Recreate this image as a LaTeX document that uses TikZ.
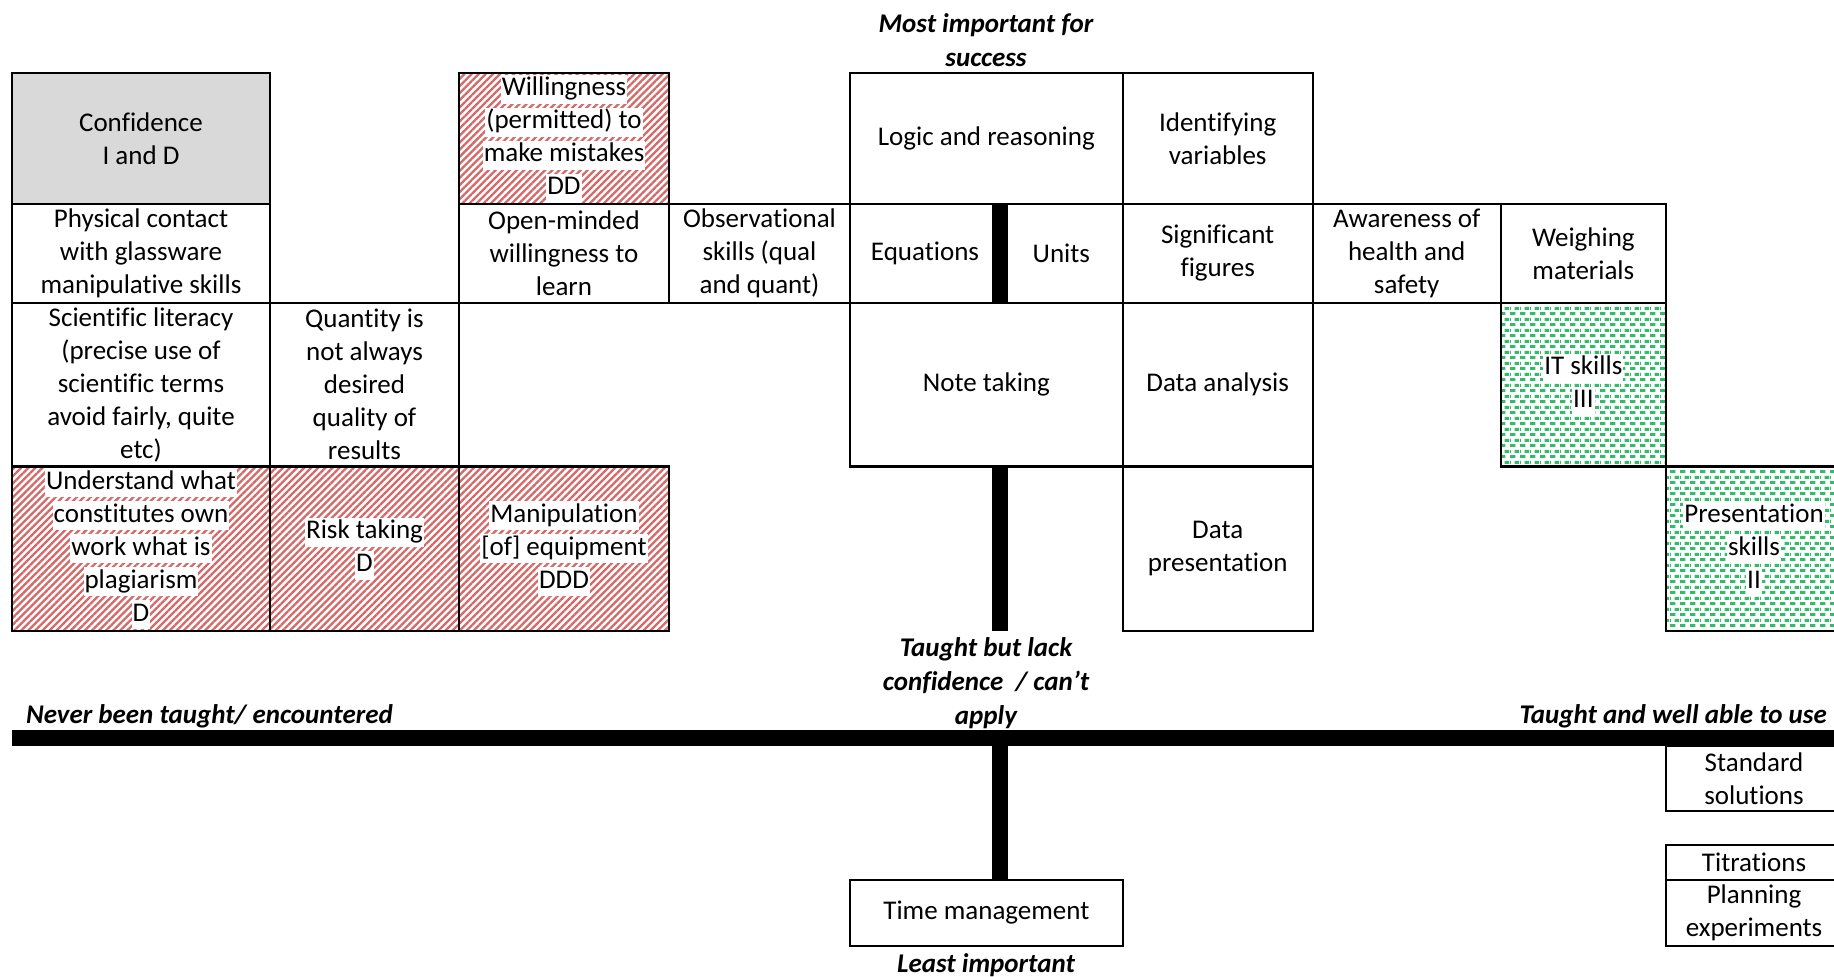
\documentclass[tikz,border=0pt]{standalone}
\usepackage{fontspec}
\setmainfont{Carlito}[Ligatures={NoCommon}]
\usetikzlibrary{patterns.meta}

\definecolor{cellgray}{RGB}{217,217,217}
\definecolor{hatchred}{RGB}{214,104,104}
\definecolor{dotgreen}{RGB}{50,188,105}

% staggered short dashes for the green cells
\pgfdeclarepattern{
  name=dashbrick,
  type=uncolored,
  bottom left={\pgfpoint{0pt}{0pt}},
  top right={\pgfpoint{10pt}{10.6pt}},
  tile size={\pgfpoint{10pt}{10.6pt}},
  code={
    \pgfpathrectangle{\pgfpoint{0pt}{0pt}}{\pgfpoint{6pt}{3pt}}
    \pgfpathrectangle{\pgfpoint{5pt}{5.3pt}}{\pgfpoint{5pt}{3pt}}
    \pgfpathrectangle{\pgfpoint{0pt}{5.3pt}}{\pgfpoint{1pt}{3pt}}
    \pgfusepath{fill}
  }
}

% one line of text on a white strip, used over patterned cells
\newcommand\wline[1]{{\setlength{\fboxsep}{1pt}\colorbox{white}{\rule[-7pt]{0pt}{27pt}#1}}}

% \skillcell{name}{x1}{y1}{x2}{y2}{extra style}{text}
\newcommand\skillcell[7]{%
  \node[cell,#6,minimum width={(#4)-(#2)},minimum height={(#5)-(#3)}]
    (#1) at ({((#2)+(#4))/2},{((#3)+(#5))/2}) {#7};}

\tikzset{
  cell/.style={draw=black, line width=2.4pt, inner sep=0pt, outer sep=0pt,
    align=center, font=\fontsize{27}{33}\selectfont, text=black},
  graycell/.style={fill=cellgray},
  redcell/.style={pattern={Lines[angle=45,distance=5pt,line width=2.3pt]},
    pattern color=hatchred},
  greencell/.style={pattern=dashbrick, pattern color=dotgreen},
  axisbar/.style={line width=16pt, draw=black},
  axislabel/.style={inner sep=0pt, align=center,
    font=\fontsize{27}{34}\selectfont\bfseries\itshape},
}

\begin{document}
\begin{tikzpicture}[x=1pt,y=-1pt]
\useasboundingbox (0,0) rectangle (1834,977);
\clip (0,0) rectangle (1834,977);

% --- top row
\skillcell{conf}{12}{73}{270}{204}{graycell}{Confidence\\I and D}
\skillcell{will}{459}{73}{669}{204}{redcell}{\wline{Willingness}\\\wline{(permitted) to}\\\wline{make mistakes}\\\wline{DD}}
\skillcell{logic}{850}{73}{1122.7}{204}{}{Logic and reasoning}
\skillcell{ident}{1122.7}{73}{1312.7}{204}{}{Identifying\\variables}

% --- second row
\skillcell{phys}{12}{204}{270}{303}{}{Physical contact\\with glassware\\manipulative skills}
\skillcell{open}{459}{204}{669}{303}{}{Open-minded\\willingness to\\learn}
\skillcell{obs}{669}{204}{850}{303}{}{Observational\\skills (qual\\and quant)}
\skillcell{equ}{850}{204}{1000}{303}{}{Equations}
\skillcell{units}{1000}{204}{1122.7}{303}{}{Units}
\skillcell{sigfig}{1122.7}{204}{1312.7}{303}{}{Significant\\figures}
\skillcell{health}{1312.7}{204}{1500.7}{303}{}{Awareness of\\health and\\safety}
\skillcell{weigh}{1500.7}{204}{1666}{303}{}{Weighing\\materials}

% --- third row
\skillcell{lit}{12}{303}{270}{466.5}{}{Scientific literacy\\(precise use of\\scientific terms\\avoid fairly, quite\\etc)}
\skillcell{quant}{270}{303}{459}{466.5}{}{Quantity is\\not always\\desired\\quality of\\results}
\skillcell{notes}{850}{303}{1122.7}{466.5}{}{Note taking}
\skillcell{anal}{1122.7}{303}{1312.7}{466.5}{}{Data analysis}
\skillcell{itsk}{1500.7}{303}{1666}{466.5}{greencell}{\wline{IT skills}\\\wline{III}}

% --- fourth row
\skillcell{plag}{12}{466.5}{270}{631}{redcell}{\wline{Understand what}\\\wline{constitutes own}\\\wline{work what is}\\\wline{plagiarism}\\\wline{D}}
\skillcell{risk}{270}{466.5}{459}{631}{redcell}{\wline{Risk taking}\\\wline{D}}
\skillcell{manip}{459}{466.5}{669}{631}{redcell}{\wline{Manipulation}\\\wline{[of] equipment}\\\wline{DDD}}
\skillcell{dpres}{1122.7}{466.5}{1312.7}{631}{}{Data\\presentation}
\skillcell{pres}{1666}{466.5}{1842}{631}{greencell}{\wline{Presentation}\\\wline{skills}\\\wline{II}}

% --- below the axis
\skillcell{time}{850}{880}{1122.7}{946}{}{Time management}
\skillcell{stdsol}{1666}{746}{1842}{811}{}{Standard\\solutions}
\skillcell{titr}{1666}{845}{1842}{880}{}{Titrations}
\skillcell{plan}{1666}{880}{1842}{946}{}{Planning\\experiments}

% --- axis labels
\node[axislabel] (most) at (986,40) {Most important for\\success};
\node[axislabel] (lack) at (986,683) {Taught but lack\\confidence\ \ / can’t\\apply};
\node[axislabel,anchor=west] (never) at (26,716) {Never been taught/ encountered};
\node[axislabel,anchor=east] (welluse) at (1827,716) {Taught and well able to use};
\node[axislabel] (least) at (986,965) {Least important};

% --- the two thick axes
\coordinate (barx) at (1000,0);
\coordinate (lackend) at (1000,631);
\coordinate (hleft) at (12,738);
\coordinate (hright) at (1842,738);
\draw[axisbar] (equ.north east) -- (equ.south east);
\draw[axisbar] (notes.south -| barx) -- (lackend);
\draw[axisbar] (hleft) -- (hright);
\draw[axisbar] (hleft -| barx) -- (time.north -| barx);
\end{tikzpicture}
\end{document}
